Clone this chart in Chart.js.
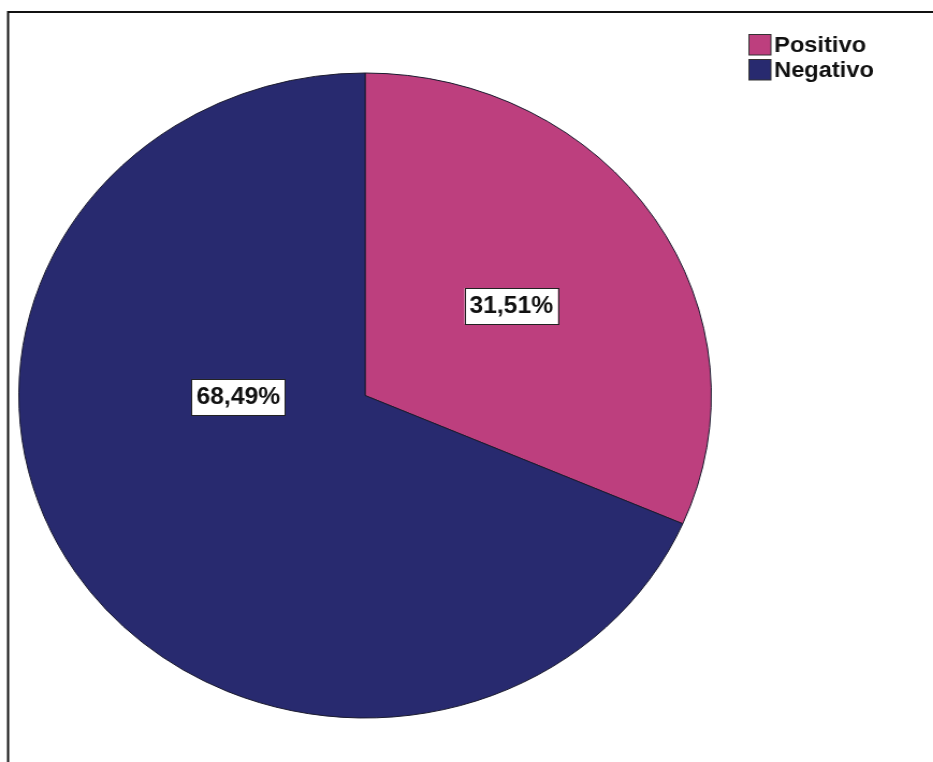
<!DOCTYPE html>
<html>
<head>
<meta charset="utf-8">
<script src="https://cdn.jsdelivr.net/npm/chart.js@4.4.1/dist/chart.umd.min.js"></script>
<style>
  html, body { margin: 0; padding: 0; background: #fff; overflow: hidden; }
  #wrap { width: 869px; height: 762px; transform: scale(1.0737, 1); transform-origin: 0 0; }
</style>
</head>
<body>
<div id="wrap"><canvas id="pie" width="869" height="762"></canvas></div>
<script>
// categories and shares (%)
const categories = ['Positivo', 'Negativo'];
const shares = [31.51, 68.49];
const sliceColors = ['#bd3f7e', '#282a6f'];

// where each percent label sits: fraction of radius, optional fixed angle
const labelSpots = [
    { frac: 0.505 },
    { frac: 0.366, angle: Math.PI * 0.996 }
];

function pct(v) {
    return v.toFixed(2).replace('.', ',') + '%';
}

// outer frame line (left and top edges show)
const framePlugin = {
    id: 'frame',
    beforeDraw(chart) {
        const ctx = chart.ctx;
        ctx.save();
        ctx.strokeStyle = '#111';
        ctx.lineWidth = 2;
        ctx.strokeRect(7.5, 12, chart.width + 20, chart.height + 20);
        ctx.restore();
    }
};

// percent labels in white boxes
const pctLabels = {
    id: 'pctLabels',
    afterDatasetsDraw(chart) {
        const ctx = chart.ctx;
        const meta = chart.getDatasetMeta(0);
        ctx.save();
        ctx.font = 'bold 23px "Liberation Sans", Arial, sans-serif';
        ctx.textAlign = 'center';
        ctx.textBaseline = 'middle';
        meta.data.forEach((arc, i) => {
            const p = arc.getProps(['x', 'y', 'startAngle', 'endAngle', 'outerRadius'], true);
            const spot = labelSpots[i];
            const a = spot.angle !== undefined ? spot.angle : (p.startAngle + p.endAngle) / 2;
            const x = p.x + Math.cos(a) * p.outerRadius * spot.frac;
            const y = p.y + Math.sin(a) * p.outerRadius * spot.frac;
            const txt = pct(shares[i]);
            const w = ctx.measureText(txt).width + 9;
            const h = 36;
            ctx.fillStyle = '#fff';
            ctx.fillRect(x - w / 2, y - h / 2, w, h);
            ctx.strokeStyle = '#222';
            ctx.lineWidth = 1;
            ctx.strokeRect(Math.round(x - w / 2) + 0.5, Math.round(y - h / 2) + 0.5, Math.round(w), h);
            ctx.fillStyle = '#111';
            ctx.fillText(txt, x, y + 1);
        });
        ctx.restore();
    }
};

// legend drawn top right, swatch then name
const sideLegend = {
    id: 'sideLegend',
    afterDraw(chart) {
        const ctx = chart.ctx;
        ctx.save();
        ctx.font = 'bold 22px "Liberation Sans", Arial, sans-serif';
        ctx.textBaseline = 'middle';
        categories.forEach((name, i) => {
            const top = 34 + i * 25;
            ctx.fillStyle = sliceColors[i];
            ctx.fillRect(697.5, top, 20.5, 21);
            ctx.strokeStyle = '#333';
            ctx.lineWidth = 1;
            ctx.strokeRect(697.5, top + 0.5, 20.5, 20.5);
            ctx.fillStyle = '#111';
            ctx.fillText(name, 721, top + 11.5);
        });
        ctx.restore();
    }
};

new Chart(document.getElementById('pie'), {
    type: 'pie',
    data: {
        labels: categories,
        datasets: [{
            data: shares,
            backgroundColor: sliceColors,
            borderColor: '#1a1a2e',
            borderWidth: 1
        }]
    },
    options: {
        responsive: false,
        animation: false,
        layout: { padding: { left: 17, right: 206, top: 31, bottom: 2 } },
        plugins: {
            legend: { display: false },
            tooltip: { enabled: false }
        }
    },
    plugins: [framePlugin, pctLabels, sideLegend]
});
</script>
</body>
</html>
